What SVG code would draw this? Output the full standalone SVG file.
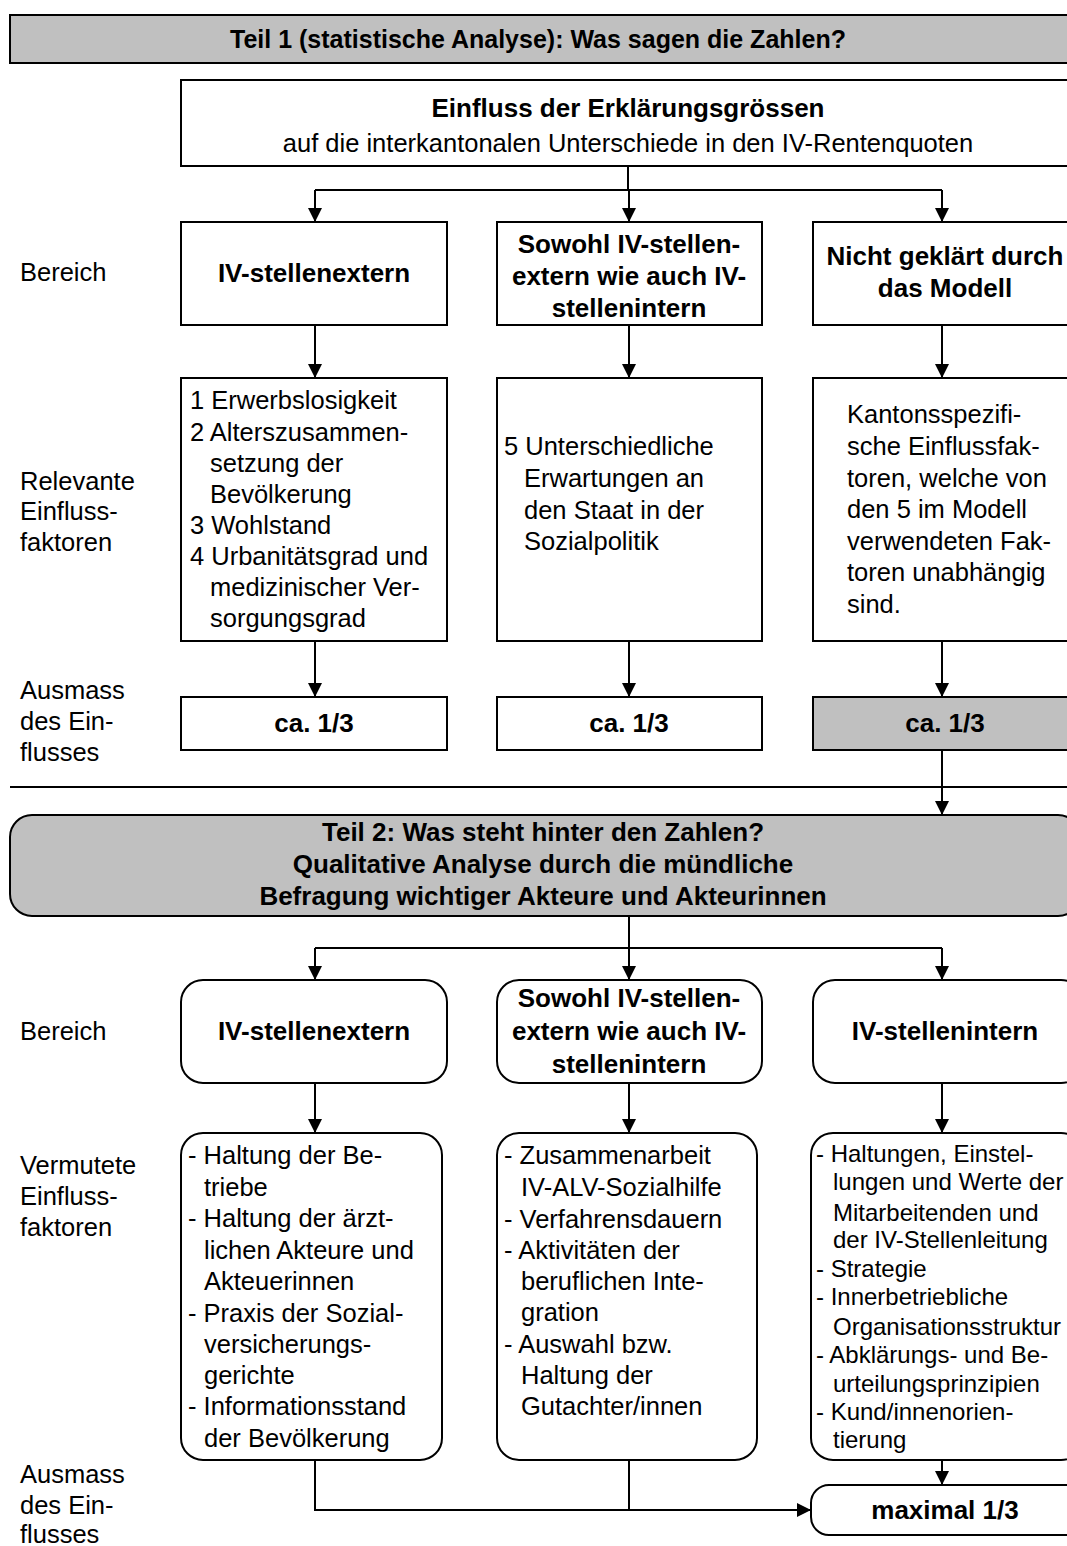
<svg xmlns="http://www.w3.org/2000/svg" width="1067" height="1546" viewBox="0 0 1067 1546">
<style>
text{font-family:"Liberation Sans",Arial,sans-serif;font-size:25.5px;fill:#000}
.b{font-weight:bold;font-size:26px}
.c{text-anchor:middle}
.s{font-size:24px}
.box{fill:#fff;stroke:#000;stroke-width:2}
.gray{fill:#c0c0c0;stroke:#000;stroke-width:2}
.ln{fill:none;stroke:#000;stroke-width:2}
</style>
<defs>
<marker id="ah" markerUnits="userSpaceOnUse" markerWidth="14" markerHeight="16" refX="14" refY="7" orient="auto">
<path d="M0,0 L14,7 L0,14 Z" fill="#000"/>
</marker>
</defs>

<g id="labels">
<text x="20" y="281">Bereich</text>
<text x="20" y="490">Relevante</text>
<text x="20" y="520">Einfluss-</text>
<text x="20" y="551">faktoren</text>
<text x="20" y="699">Ausmass</text>
<text x="20" y="730">des Ein-</text>
<text x="20" y="761">flusses</text>
<text x="20" y="1040">Bereich</text>
<text x="20" y="1174">Vermutete</text>
<text x="20" y="1205">Einfluss-</text>
<text x="20" y="1236">faktoren</text>
<text x="20" y="1483">Ausmass</text>
<text x="20" y="1514">des Ein-</text>
<text x="20" y="1543">flusses</text>
</g>

<g id="teil1">
<rect class="gray" x="10" y="15" width="1070" height="48"/>
<text class="b c" x="538" y="48" style="font-size:25px">Teil 1 (statistische Analyse): Was sagen die Zahlen?</text>
</g>

<g id="einfluss">
<rect class="box" x="181" y="80" width="900" height="86"/>
<text class="b c" x="628" y="117">Einfluss der Erklärungsgrössen</text>
<text class="c" x="628" y="152">auf die interkantonalen Unterschiede in den IV-Rentenquoten</text>
</g>

<g id="b1a">
<rect class="box" x="181" y="222" width="266" height="103"/>
<text class="b c" x="314" y="282">IV-stellenextern</text>
</g>
<g id="b1b">
<rect class="box" x="497" y="222" width="265" height="103"/>
<text class="b c" x="629" y="253">Sowohl IV-stellen-</text>
<text class="b c" x="629" y="285">extern wie auch IV-</text>
<text class="b c" x="629" y="317">stellenintern</text>
</g>
<g id="b1c">
<rect class="box" x="813" y="222" width="270" height="103"/>
<text class="b c" x="945" y="265">Nicht geklärt durch</text>
<text class="b c" x="945" y="297">das Modell</text>
</g>

<g id="b2a">
<rect class="box" x="181" y="378" width="266" height="263"/>
<text x="190" y="409">1 Erwerbslosigkeit</text>
<text x="190" y="441">2 Alterszusammen-</text>
<text x="210" y="472">setzung der</text>
<text x="210" y="503">Bevölkerung</text>
<text x="190" y="534">3 Wohlstand</text>
<text x="190" y="565">4 Urbanitätsgrad und</text>
<text x="210" y="596">medizinischer Ver-</text>
<text x="210" y="627">sorgungsgrad</text>
</g>
<g id="b2b">
<rect class="box" x="497" y="378" width="265" height="263"/>
<text x="504" y="455">5 Unterschiedliche</text>
<text x="524" y="487">Erwartungen an</text>
<text x="524" y="519">den Staat in der</text>
<text x="524" y="550">Sozialpolitik</text>
</g>
<g id="b2c">
<rect class="box" x="813" y="378" width="270" height="263"/>
<text x="847" y="423">Kantonsspezifi-</text>
<text x="847" y="455">sche Einflussfak-</text>
<text x="847" y="487">toren, welche von</text>
<text x="847" y="518">den 5 im Modell</text>
<text x="847" y="550">verwendeten Fak-</text>
<text x="847" y="581">toren unabhängig</text>
<text x="847" y="613">sind.</text>
</g>

<g id="b3a">
<rect class="box" x="181" y="697" width="266" height="53"/>
<text class="b c" x="314" y="732">ca. 1/3</text>
</g>
<g id="b3b">
<rect class="box" x="497" y="697" width="265" height="53"/>
<text class="b c" x="629" y="732">ca. 1/3</text>
</g>
<g id="b3c">
<rect class="gray" x="813" y="697" width="270" height="53"/>
<text class="b c" x="945" y="732">ca. 1/3</text>
</g>

<g id="separator">
<line class="ln" x1="10" y1="787" x2="1067" y2="787"/>
</g>

<g id="teil2">
<rect class="gray" x="10" y="815" width="1070" height="101" rx="22" ry="22"/>
<text class="b c" x="543" y="841">Teil 2: Was steht hinter den Zahlen?</text>
<text class="b c" x="543" y="873">Qualitative Analyse durch die mündliche</text>
<text class="b c" x="543" y="905">Befragung wichtiger Akteure und Akteurinnen</text>
</g>

<g id="b4a">
<rect class="box" x="181" y="980" width="266" height="103" rx="22" ry="22"/>
<text class="b c" x="314" y="1040">IV-stellenextern</text>
</g>
<g id="b4b">
<rect class="box" x="497" y="980" width="265" height="103" rx="22" ry="22"/>
<text class="b c" x="629" y="1007">Sowohl IV-stellen-</text>
<text class="b c" x="629" y="1040">extern wie auch IV-</text>
<text class="b c" x="629" y="1073">stellenintern</text>
</g>
<g id="b4c">
<rect class="box" x="813" y="980" width="270" height="103" rx="22" ry="22"/>
<text class="b c" x="945" y="1040">IV-stellenintern</text>
</g>

<g id="b5a">
<rect class="box" x="181" y="1133" width="261" height="327" rx="22" ry="22"/>
<text x="188" y="1164">- Haltung der Be-</text>
<text x="204" y="1196">triebe</text>
<text x="188" y="1227">- Haltung der ärzt-</text>
<text x="204" y="1259">lichen Akteure und</text>
<text x="204" y="1290">Akteuerinnen</text>
<text x="188" y="1322">- Praxis der Sozial-</text>
<text x="204" y="1353">versicherungs-</text>
<text x="204" y="1384">gerichte</text>
<text x="188" y="1415">- Informationsstand</text>
<text x="204" y="1447">der Bevölkerung</text>
</g>
<g id="b5b">
<rect class="box" x="497" y="1133" width="260" height="327" rx="22" ry="22"/>
<text x="504" y="1164">- Zusammenarbeit</text>
<text x="521" y="1196">IV-ALV-Sozialhilfe</text>
<text x="504" y="1228">- Verfahrensdauern</text>
<text x="504" y="1259">- Aktivitäten der</text>
<text x="521" y="1290">beruflichen Inte-</text>
<text x="521" y="1321">gration</text>
<text x="504" y="1353">- Auswahl bzw.</text>
<text x="521" y="1384">Haltung der</text>
<text x="521" y="1415">Gutachter/innen</text>
</g>
<g id="b5c">
<rect class="box" x="811" y="1133" width="272" height="327" rx="22" ry="22"/>
<text class="s" x="816" y="1162">- Haltungen, Einstel-</text>
<text class="s" x="833" y="1190">lungen und Werte der</text>
<text class="s" x="833" y="1221">Mitarbeitenden und</text>
<text class="s" x="833" y="1248">der IV-Stellenleitung</text>
<text class="s" x="816" y="1277">- Strategie</text>
<text class="s" x="816" y="1305">- Innerbetriebliche</text>
<text class="s" x="833" y="1335">Organisationsstruktur</text>
<text class="s" x="816" y="1363">- Abklärungs- und Be-</text>
<text class="s" x="833" y="1392">urteilungsprinzipien</text>
<text class="s" x="816" y="1420">- Kund/innenorien-</text>
<text class="s" x="833" y="1448">tierung</text>
</g>

<g id="b6">
<rect class="box" x="811" y="1485" width="272" height="50" rx="18" ry="18"/>
<text class="b c" x="945" y="1519">maximal 1/3</text>
</g>

<g id="connectors">
<path class="ln" d="M628,166 V190"/>
<path class="ln" d="M315,190 H942"/>
<path class="ln" d="M315,190 V222" marker-end="url(#ah)"/>
<path class="ln" d="M629,190 V222" marker-end="url(#ah)"/>
<path class="ln" d="M942,190 V222" marker-end="url(#ah)"/>
<path class="ln" d="M315,325 V378" marker-end="url(#ah)"/>
<path class="ln" d="M629,325 V378" marker-end="url(#ah)"/>
<path class="ln" d="M942,325 V378" marker-end="url(#ah)"/>
<path class="ln" d="M315,641 V697" marker-end="url(#ah)"/>
<path class="ln" d="M629,641 V697" marker-end="url(#ah)"/>
<path class="ln" d="M942,641 V697" marker-end="url(#ah)"/>
<path class="ln" d="M942,750 V815" marker-end="url(#ah)"/>
<path class="ln" d="M629,916 V948"/>
<path class="ln" d="M315,948 H942"/>
<path class="ln" d="M315,948 V980" marker-end="url(#ah)"/>
<path class="ln" d="M629,948 V980" marker-end="url(#ah)"/>
<path class="ln" d="M942,948 V980" marker-end="url(#ah)"/>
<path class="ln" d="M315,1083 V1133" marker-end="url(#ah)"/>
<path class="ln" d="M629,1083 V1133" marker-end="url(#ah)"/>
<path class="ln" d="M942,1083 V1133" marker-end="url(#ah)"/>
<path class="ln" d="M942,1460 V1485" marker-end="url(#ah)"/>
<path class="ln" d="M315,1460 V1510 H811" marker-end="url(#ah)"/>
<path class="ln" d="M629,1460 V1510"/>
</g>
</svg>
